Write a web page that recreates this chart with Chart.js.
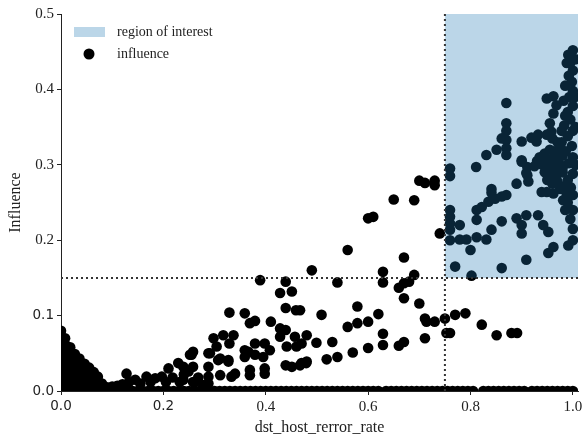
<!DOCTYPE html>
<html>
<head>
<meta charset="utf-8">
<script src="https://cdn.jsdelivr.net/npm/chart.js@4/dist/chart.umd.min.js"></script>
<style>
  body { margin: 0; background: #fff; }
</style>
</head>
<body>
<canvas id="scatter" width="584" height="439"></canvas>
<script>
// thresholds of the region of interest
const roiX = 0.75;
const roiY = 0.15;
const xMax = 1.01;
const yMax = 0.5;

const xTicks = [0, 0.2, 0.4, 0.6, 0.8, 1.0];
const yTicks = [0, 0.1, 0.2, 0.3, 0.4, 0.5];
// these tick labels come out in a sans font in the original
const sansXTicks = [0, 0.2];
const sansYTicks = [0, 0.1];

// dense blob next to x = 0
const nearZero = [
  [0, 0.08], [0, 0.072], [0, 0.064], [0, 0.056], [0, 0.048], [0, 0.04], [0, 0.032], [0, 0.024], [0, 0.016], [0, 0.008], [0, 0.0],
  [0.008, 0.07], [0.008, 0.062], [0.008, 0.053], [0.008, 0.044], [0.008, 0.035], [0.008, 0.026], [0.008, 0.017], [0.008, 0.008],
  [0.018, 0.058], [0.018, 0.05], [0.018, 0.041], [0.018, 0.032], [0.018, 0.023], [0.018, 0.014], [0.018, 0.005],
  [0.027, 0.049], [0.027, 0.04], [0.027, 0.031], [0.027, 0.022], [0.027, 0.013], [0.027, 0.004],
  [0.036, 0.043], [0.036, 0.034], [0.036, 0.025], [0.036, 0.016], [0.036, 0.007],
  [0.046, 0.036], [0.046, 0.027], [0.046, 0.018], [0.046, 0.009],
  [0.055, 0.031], [0.055, 0.022], [0.055, 0.013], [0.055, 0.004],
  [0.064, 0.025], [0.064, 0.016], [0.064, 0.007],
  [0.072, 0.019], [0.072, 0.01],
  [0.08, 0.01], [0.08, 0.003], [0.087, 0.004]
];

// low points between 0.09 and 0.37
const lowBand = [
  [0.09, 0.005], [0.1, 0.006], [0.11, 0.007], [0.12, 0.009], [0.128, 0.023], [0.133, 0.012],
  [0.145, 0.015], [0.155, 0.01], [0.167, 0.019], [0.175, 0.012], [0.184, 0.017], [0.197, 0.019],
  [0.205, 0.012], [0.21, 0.03], [0.218, 0.018], [0.229, 0.037], [0.232, 0.012], [0.24, 0.022],
  [0.249, 0.026], [0.255, 0.048], [0.258, 0.052], [0.262, 0.012], [0.268, 0.018], [0.278, 0.008],
  [0.288, 0.05], [0.288, 0.032], [0.288, 0.019], [0.288, 0.01], [0.307, 0.041], [0.327, 0.039],
  [0.366, 0.052], [0.369, 0.028]
];

// the spread-out middle of the cloud
const midSpread = [
  [0.389, 0.147], [0.49, 0.16], [0.54, 0.144], [0.56, 0.187], [0.6, 0.229], [0.61, 0.231],
  [0.65, 0.254], [0.69, 0.253], [0.7, 0.279], [0.711, 0.276], [0.73, 0.279], [0.73, 0.273],
  [0.74, 0.209], [0.67, 0.177], [0.629, 0.158], [0.629, 0.144], [0.66, 0.137], [0.67, 0.143],
  [0.68, 0.145], [0.69, 0.154], [0.67, 0.123], [0.7, 0.116], [0.711, 0.096], [0.714, 0.092],
  [0.73, 0.092], [0.75, 0.096], [0.711, 0.07], [0.753, 0.077], [0.467, 0.107], [0.509, 0.101],
  [0.579, 0.112], [0.56, 0.085], [0.579, 0.09], [0.6, 0.092], [0.62, 0.102], [0.629, 0.076],
  [0.629, 0.061], [0.66, 0.06], [0.67, 0.065], [0.6, 0.057], [0.57, 0.051], [0.54, 0.045],
  [0.519, 0.042], [0.53, 0.065], [0.499, 0.064], [0.48, 0.074], [0.47, 0.063], [0.48, 0.039],
  [0.47, 0.037], [0.439, 0.145], [0.428, 0.13], [0.451, 0.132], [0.439, 0.11], [0.459, 0.107],
  [0.329, 0.104], [0.359, 0.103], [0.369, 0.09], [0.379, 0.093], [0.41, 0.092], [0.428, 0.083],
  [0.439, 0.081], [0.428, 0.072], [0.457, 0.072], [0.441, 0.059], [0.46, 0.059], [0.317, 0.074],
  [0.337, 0.074], [0.298, 0.07], [0.304, 0.059], [0.329, 0.063], [0.258, 0.032], [0.252, 0.048],
  [0.359, 0.054], [0.379, 0.063], [0.398, 0.063], [0.408, 0.054], [0.359, 0.045], [0.379, 0.048],
  [0.395, 0.045], [0.291, 0.05], [0.311, 0.043], [0.327, 0.041], [0.439, 0.034], [0.451, 0.032],
  [0.467, 0.034], [0.479, 0.037], [0.369, 0.021], [0.398, 0.03], [0.398, 0.023], [0.311, 0.021],
  [0.333, 0.019], [0.34, 0.023], [0.239, 0.032], [0.239, 0.015], [0.258, 0.012],
  [0.77, 0.101], [0.79, 0.103], [0.76, 0.077], [0.822, 0.088], [0.851, 0.074], [0.88, 0.077],
  [0.891, 0.077]
];

// points inside (or on the edge of) the region of interest
const roiPoints = [
  [1.0, 0.452], [0.991, 0.446], [0.995, 0.435], [0.988, 0.435], [1.0, 0.425], [0.992, 0.418],
  [0.998, 0.41], [0.985, 0.405], [1.0, 0.398], [0.993, 0.39], [0.982, 0.385], [1.0, 0.378],
  [0.99, 0.37], [0.995, 0.36], [0.983, 0.352], [1.0, 0.345], [0.99, 0.338], [0.978, 0.33],
  [0.998, 0.325], [0.986, 0.318], [1.0, 0.31], [0.992, 0.302], [0.98, 0.296], [1.0, 0.288],
  [0.99, 0.28], [0.996, 0.27], [1.0, 0.26], [0.99, 0.25], [1.0, 0.24], [0.995, 0.228],
  [1.0, 0.215], [1.0, 0.2], [0.991, 0.193], [1.005, 0.44], [1.005, 0.39], [1.005, 0.35],
  [1.005, 0.3], [0.985, 0.365], [0.978, 0.345], [0.988, 0.26], [0.985, 0.24],
  [0.962, 0.391], [0.949, 0.388], [0.968, 0.379], [0.962, 0.368], [0.955, 0.355], [0.958, 0.344],
  [0.949, 0.34], [0.955, 0.34],
  [0.935, 0.31], [0.945, 0.315], [0.955, 0.32], [0.965, 0.318], [0.975, 0.322], [0.94, 0.3],
  [0.95, 0.305], [0.96, 0.308], [0.97, 0.31], [0.98, 0.312], [0.945, 0.29], [0.955, 0.295],
  [0.965, 0.298], [0.975, 0.3], [0.95, 0.28], [0.96, 0.285], [0.97, 0.288], [0.98, 0.29],
  [0.96, 0.275], [0.97, 0.278], [0.975, 0.268], [0.985, 0.272], [0.939, 0.264], [0.949, 0.264],
  [0.962, 0.262], [0.981, 0.253], [0.93, 0.305], [0.925, 0.298], [0.97, 0.33], [0.96, 0.335],
  [0.87, 0.382], [0.87, 0.355], [0.87, 0.345], [0.87, 0.333], [0.87, 0.322], [0.87, 0.313],
  [0.861, 0.335], [0.851, 0.32], [0.831, 0.313], [0.811, 0.297], [0.76, 0.295], [0.76, 0.285],
  [0.9, 0.331], [0.919, 0.336], [0.932, 0.34], [0.929, 0.331], [0.9, 0.306], [0.911, 0.297],
  [0.911, 0.286], [0.89, 0.275], [0.841, 0.268], [0.9, 0.304], [0.909, 0.289], [0.913, 0.278],
  [0.841, 0.263], [0.812, 0.24], [0.822, 0.244], [0.835, 0.251], [0.848, 0.255], [0.861, 0.258],
  [0.87, 0.26], [0.76, 0.24], [0.76, 0.231], [0.76, 0.222], [0.76, 0.214], [0.76, 0.2],
  [0.779, 0.22], [0.779, 0.201], [0.792, 0.201], [0.812, 0.204], [0.831, 0.201], [0.841, 0.214],
  [0.861, 0.225], [0.812, 0.227], [0.8, 0.187], [0.77, 0.165], [0.861, 0.163], [0.89, 0.229],
  [0.909, 0.233], [0.932, 0.233], [0.9, 0.22], [0.9, 0.209], [0.942, 0.22], [0.952, 0.211],
  [0.962, 0.191], [0.952, 0.183], [0.909, 0.174], [0.802, 0.153]
];

// points sitting on influence = 0 along the x axis
const zeroRowX = [
  0.00, 0.01, 0.02, 0.03, 0.04, 0.05, 0.06, 0.07, 0.08, 0.09, 0.10, 0.11, 0.12, 0.13, 0.14,
  0.15, 0.16, 0.17, 0.18, 0.19, 0.20, 0.21, 0.22, 0.23, 0.24, 0.25, 0.26, 0.27, 0.28, 0.29,
  0.30, 0.31, 0.32, 0.33, 0.34, 0.35, 0.36, 0.37, 0.38, 0.39, 0.40, 0.41, 0.42, 0.43, 0.44,
  0.45, 0.46, 0.47, 0.48, 0.49, 0.50, 0.51, 0.52, 0.53, 0.54, 0.55, 0.56, 0.57, 0.58, 0.59,
  0.60, 0.61, 0.62, 0.635, 0.645, 0.655, 0.665, 0.675, 0.685, 0.695, 0.705, 0.715, 0.725,
  0.735, 0.745, 0.755, 0.765, 0.775, 0.785, 0.795, 0.805,
  0.825, 0.835, 0.845, 0.855, 0.865, 0.875, 0.885, 0.895, 0.905, 0.92, 0.93, 0.94, 0.95,
  0.96, 0.97, 0.98, 0.99, 1.0
];

const points = [...nearZero, ...lowBand, ...midSpread, ...roiPoints]
  .map(([x, y]) => ({ x, y }))
  .concat(zeroRowX.map((x) => ({ x, y: 0 })));

const serif = "'Liberation Serif', 'DejaVu Serif', serif";
const sans = "'DejaVu Sans', sans-serif";
const roiFill = "rgba(31, 119, 180, 0.3)";
const axisColor = "#222";

function tickFont(value, sansList) {
  const isSans = sansList.some((v) => Math.abs(v - value) < 1e-9);
  return isSans ? { family: sans, size: 13.5 } : { family: serif, size: 15 };
}

// shaded box drawn right after the points so they show through it
const roiBox = {
  id: "roiBox",
  afterDatasetDraw(chart, args) {
    if (args.index !== 0) return;
    const { ctx, chartArea, scales } = chart;
    const left = scales.x.getPixelForValue(roiX);
    const right = scales.x.getPixelForValue(xMax);
    const top = scales.y.getPixelForValue(yMax);
    const bottom = scales.y.getPixelForValue(roiY);
    ctx.save();
    ctx.beginPath();
    ctx.rect(chartArea.left, chartArea.top, chartArea.width, chartArea.height);
    ctx.clip();
    ctx.fillStyle = roiFill;
    ctx.fillRect(left, top, right - left, bottom - top);
    ctx.restore();
  },
};

// legend sits inside the plot, top left
const innerLegend = {
  id: "innerLegend",
  afterDraw(chart) {
    const { ctx, chartArea } = chart;
    const x0 = chartArea.left + 13;
    const y0 = chartArea.top + 18;
    ctx.save();
    ctx.fillStyle = roiFill;
    ctx.fillRect(x0, y0 - 5, 31, 10);
    ctx.fillStyle = "#000";
    ctx.beginPath();
    ctx.arc(x0 + 15, y0 + 22, 5.5, 0, Math.PI * 2);
    ctx.fill();
    ctx.fillStyle = axisColor;
    ctx.font = "14px " + serif;
    ctx.textBaseline = "middle";
    ctx.fillText("region of interest", x0 + 43, y0);
    ctx.fillText("influence", x0 + 43, y0 + 22);
    ctx.restore();
  },
};

const dotted = {
  type: "line",
  borderColor: "#333",
  borderWidth: 2,
  borderDash: [2, 3],
  pointRadius: 0,
  fill: false,
  order: 1,
  clip: 0,
};

new Chart(document.getElementById("scatter"), {
  type: "scatter",
  data: {
    datasets: [
      {
        label: "influence",
        data: points,
        backgroundColor: "#000",
        borderWidth: 0,
        pointRadius: 5.3,
        pointHoverRadius: 5.3,
        clip: 0,
        order: 3,
      },
      { ...dotted, label: "x threshold", data: [{ x: roiX, y: 0 }, { x: roiX, y: yMax }] },
      { ...dotted, label: "y threshold", data: [{ x: 0, y: roiY }, { x: xMax, y: roiY }] },
    ],
  },
  options: {
    responsive: false,
    animation: false,
    events: [],
    layout: { padding: { top: 14, right: 6, left: 0, bottom: 0 } },
    plugins: {
      legend: { display: false },
      tooltip: { enabled: false },
    },
    scales: {
      x: {
        type: "linear",
        min: 0,
        max: xMax,
        afterBuildTicks: (scale) => {
          scale.ticks = xTicks.map((value) => ({ value }));
        },
        afterFit: (scale) => {
          scale.height = 48;
          scale.paddingLeft = 0;
          scale.paddingRight = 0;
        },
        ticks: {
          callback: (v) => Number(v).toFixed(1),
          font: (c) => tickFont(c.tick ? c.tick.value : 0, sansXTicks),
          color: axisColor,
          padding: 3,
          maxRotation: 0,
          autoSkip: false,
        },
        grid: { drawOnChartArea: false, tickLength: 4, color: axisColor },
        border: { display: true, color: axisColor, width: 1 },
        title: {
          display: true,
          text: "dst_host_rerror_rate",
          font: { family: serif, size: 16 },
          color: axisColor,
          padding: { top: 0, bottom: 2 },
        },
      },
      y: {
        type: "linear",
        min: 0,
        max: yMax,
        afterBuildTicks: (scale) => {
          scale.ticks = yTicks.map((value) => ({ value }));
        },
        afterFit: (scale) => {
          scale.width = 61;
        },
        ticks: {
          callback: (v) => Number(v).toFixed(1),
          font: (c) => tickFont(c.tick ? c.tick.value : 0, sansYTicks),
          color: axisColor,
          padding: 3,
        },
        grid: { drawOnChartArea: false, tickLength: 4, color: axisColor },
        border: { display: true, color: axisColor, width: 1 },
        title: {
          display: true,
          text: "Influence",
          font: { family: serif, size: 16 },
          color: axisColor,
          padding: { top: 6, bottom: 0 },
        },
      },
    },
  },
  plugins: [roiBox, innerLegend],
});
</script>
</body>
</html>
